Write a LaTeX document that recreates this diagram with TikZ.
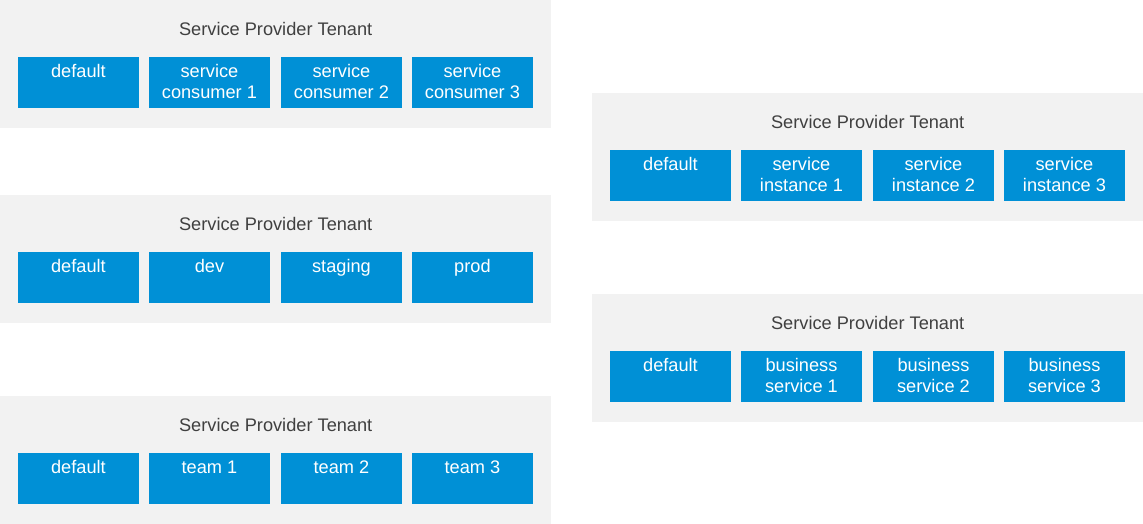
\documentclass[tikz,border=0pt]{standalone}
\usepackage{fontspec}
\setmainfont{Liberation Sans}
\usetikzlibrary{positioning}

\definecolor{tenantgray}{HTML}{F2F2F2}
\definecolor{spaceblue}{HTML}{0090D6}
\definecolor{titlegray}{HTML}{404040}

\tikzset{
  tenant/.style={fill=tenantgray, minimum width=551pt, minimum height=128pt,
    inner sep=0pt, anchor=north west},
  spacebox/.style={fill=spaceblue, minimum width=120.5pt, minimum height=51pt,
    inner sep=0pt, anchor=north west},
  tenanttitle/.style={text=titlegray, font=\fontsize{18.2}{21}\selectfont,
    anchor=base, inner sep=0pt},
  spacelabel/.style={text=white, font=\fontsize{18.2}{21}\selectfont,
    align=center, anchor=north, inner sep=0pt}
}

\begin{document}
\begin{tikzpicture}[x=1pt,y=-1pt]
    \useasboundingbox (0,0) rectangle (1143,524);
    % tenants with their spaces
    \foreach \t/\x/\y/\sa/\sb/\sc in {
        cons/0/0/{service\\consumer 1}/{service\\consumer 2}/{service\\consumer 3},
        stage/0/195/dev/staging/prod,
        team/0/396/team 1/team 2/team 3,
        inst/592/93/{service\\instance 1}/{service\\instance 2}/{service\\instance 3},
        biz/592/294/{business\\service 1}/{business\\service 2}/{business\\service 3}}
    {
        \node[tenant] (\t) at (\x,\y) {};
        \node[tenanttitle] (\t-title) at ([yshift=-35.5pt]\t.north) {Service Provider Tenant};
        \foreach \i/\o/\txt in {0/18/default, 1/149/\sa, 2/281/\sb, 3/412/\sc}
        {
            \node[spacebox] (\t-s\i) at ([xshift=\o pt,yshift=-57pt]\t.north west) {};
            \node[spacelabel] (\t-l\i) at ([yshift=-7.5pt]\t-s\i.north) {\txt};
        }
    }
\end{tikzpicture}
\end{document}
